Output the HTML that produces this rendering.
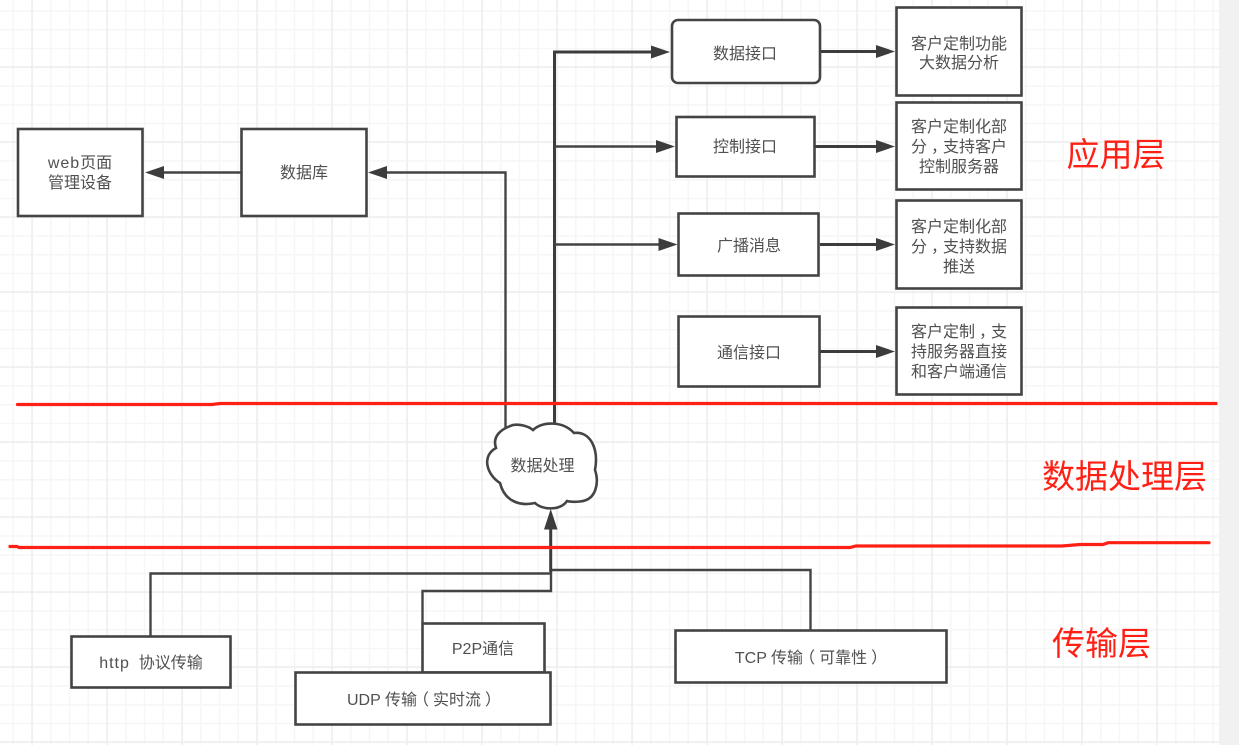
<!DOCTYPE html>
<html lang="zh">
<head>
<meta charset="utf-8">
<title>架构图</title>
<style>
html,body{margin:0;padding:0;background:#fff;width:1239px;height:745px;overflow:hidden}
svg{display:block}
text{font-family:"Liberation Sans","Noto Sans CJK SC",sans-serif;font-size:16px;fill:#505050;text-anchor:middle}
.r{font-size:33px;fill:#ff2015}
.b{fill:#fff;stroke:#444;stroke-width:2.6}
.l{fill:none;stroke:#444;stroke-width:2.4}
.t{fill:none;stroke:#3c3c3c;stroke-width:3}
.h{fill:#3c3c3c}
.red{fill:none;stroke:#ff2015;stroke-width:3.2;stroke-linecap:round}
.w{letter-spacing:1px}
</style>
</head>
<body>
<svg width="1239" height="745" viewBox="0 0 1239 745" xmlns="http://www.w3.org/2000/svg">
<defs>
<pattern id="minor" patternUnits="userSpaceOnUse" x="12.5" y="10.25" width="18.75" height="18.75">
<rect x="0" y="0" width="1.5" height="18.75" fill="#f6f6f6"/>
<rect x="0" y="0" width="18.75" height="1.5" fill="#f6f6f6"/>
</pattern>
<pattern id="major" patternUnits="userSpaceOnUse" x="31.25" y="66.25" width="75" height="75">
<rect x="0" y="0" width="1.6" height="75" fill="#eeeeee"/>
<rect x="0" y="0" width="75" height="1.6" fill="#eeeeee"/>
</pattern>
</defs>
<rect x="0" y="0" width="1239" height="745" fill="#fff"/>
<rect x="0" y="0" width="1219" height="745" fill="url(#minor)"/>
<rect x="0" y="0" width="1219" height="745" fill="url(#major)"/>
<rect x="1219" y="0" width="20" height="745" fill="#f1f1f1"/>

<!-- connectors -->
<path class="l" d="M505.5 430V172.500H385"/>
<path class="l" d="M241 172.500H162"/>
<path class="t" d="M554.500 424V52H652"/>
<path class="l" d="M554.500 146.500H657"/>
<path class="l" d="M554.500 244.500H659"/>
<path class="t" d="M821 51.500H877"/>
<path class="t" d="M815 146.500H877"/>
<path class="t" d="M820 244.500H877"/>
<path class="t" d="M820 351.500H877"/>
<path class="l" d="M150.500 636V573.500H551"/>
<path class="l" d="M422.500 623V591H551V570"/>
<path class="l" d="M810.500 630V570H551"/>
<path class="t" d="M550.700 572V526"/>

<!-- arrowheads -->
<path class="h" d="M670 52L651 45.500V58.500Z"/>
<path class="h" d="M675 146.500L656 140V153Z"/>
<path class="h" d="M677.500 244.500L658.500 238V251Z"/>
<path class="h" d="M895 51.500L876 45V58Z"/>
<path class="h" d="M895 146.500L876 140V153Z"/>
<path class="h" d="M895 244.500L876 238V251Z"/>
<path class="h" d="M895 351.500L876 345V358Z"/>
<path class="h" d="M368 172.500L387 166V179Z"/>
<path class="h" d="M145 172.500L164 166V179Z"/>
<path class="h" d="M550.700 509L544 529.500H557.500Z"/>

<!-- boxes -->
<rect class="b" x="18" y="129" width="124.500" height="87"/>
<rect class="b" x="241.500" y="129" width="125" height="87"/>
<rect class="b" x="672" y="20" width="148" height="63" rx="6"/>
<rect class="b" x="676.500" y="117" width="138" height="59.500"/>
<rect class="b" x="678.500" y="213.500" width="140" height="62"/>
<rect class="b" x="678.500" y="316.500" width="141" height="70"/>
<rect class="b" x="896.500" y="7.500" width="125" height="88"/>
<rect class="b" x="896.500" y="102.500" width="125" height="87"/>
<rect class="b" x="896.500" y="200.500" width="125" height="88"/>
<rect class="b" x="896.500" y="307.500" width="125" height="87"/>
<rect class="b" x="71.500" y="636.500" width="159" height="51"/>
<rect class="b" x="422.500" y="623.500" width="122" height="49"/>
<rect class="b" x="295.500" y="672.500" width="255" height="52"/>
<rect class="b" x="675.500" y="630.500" width="271" height="52"/>

<!-- cloud -->
<path class="b" d="M496 448C492 436 501 429 513 425C520 424 528 426 533 430C543 421 563 421 574 433C590 431 599 448 595 470C599 482 597 500 580 501.500C574 502 570 502 567 501C560 511 542 510 535 503C522 506 505 503 500 483C487 475 481 456 496 448Z"/>

<!-- red lines -->
<path class="red" d="M17.500 404.500H212L220 403.500H1216"/>
<path class="red" d="M10 546.500H17L19 547.500H850L856 546H1062L1080 544.500H1103L1108 542.700H1209"/>

<!-- labels -->
<text x="80" y="168"><tspan class="w">web</tspan>页面</text>
<text x="80" y="188">管理设备</text>
<text x="304" y="178">数据库</text>
<text x="745" y="59">数据接口</text>
<text x="745" y="152">控制接口</text>
<text x="749" y="251">广播消息</text>
<text x="749" y="358">通信接口</text>
<text x="959" y="49">客户定制功能</text>
<text x="959" y="68">大数据分析</text>
<text x="959" y="132">客户定制化部</text>
<text x="959" y="152">分<tspan dx="4">，</tspan><tspan dx="-4">支持客户</tspan></text>
<text x="959" y="172">控制服务器</text>
<text x="959" y="232">客户定制化部</text>
<text x="959" y="252">分<tspan dx="4">，</tspan><tspan dx="-4">支持数据</tspan></text>
<text x="959" y="272">推送</text>
<text x="959" y="337">客户定制<tspan dx="4">，</tspan><tspan dx="-4">支</tspan></text>
<text x="959" y="357">持服务器直接</text>
<text x="959" y="377">和客户端通信</text>
<text x="542.500" y="471">数据处理</text>
<text x="151" y="668" xml:space="preserve"><tspan class="w">http</tspan>  协议传输</text>
<text x="483" y="654">P2P通信</text>
<text x="424" y="705">UDP 传输<tspan dx="-4">（</tspan><tspan dx="4">实时流</tspan><tspan dx="4">）</tspan></text>
<text x="811" y="663">TCP 传输<tspan dx="-4">（</tspan><tspan dx="4">可靠性</tspan><tspan dx="4">）</tspan></text>
<text class="r" x="1116" y="166">应用层</text>
<text class="r" x="1124.500" y="488">数据处理层</text>
<text class="r" x="1101.500" y="655">传输层</text>
</svg>
</body>
</html>
